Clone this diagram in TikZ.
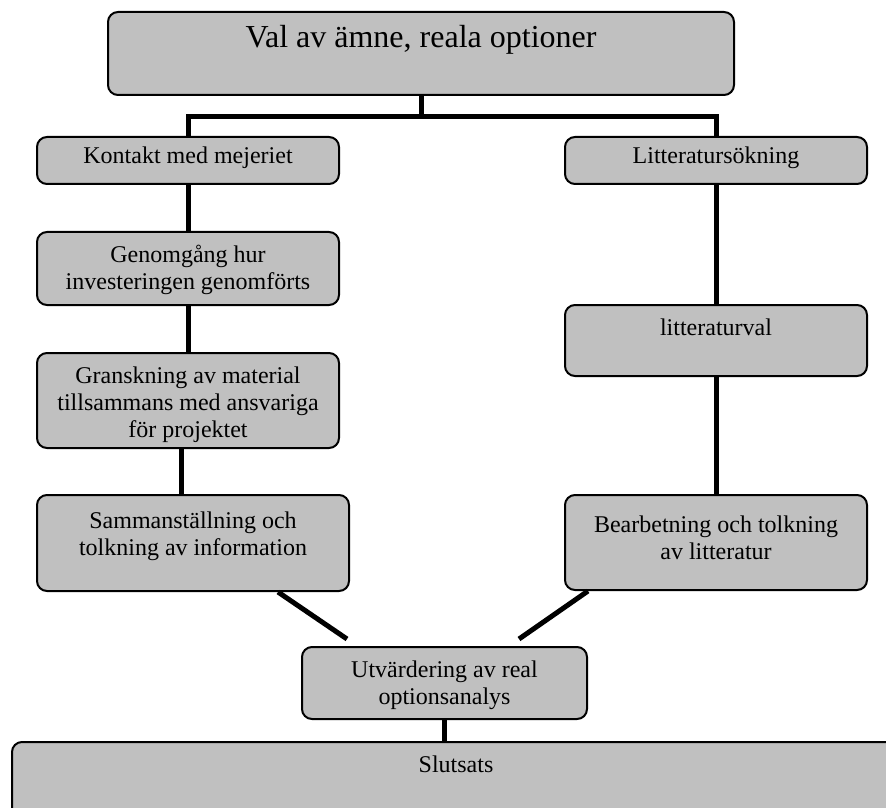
\documentclass[tikz,border=0pt]{standalone}
\usepackage{fontspec}
\setmainfont{Liberation Serif}
\usetikzlibrary{positioning,calc}
\definecolor{boxgray}{HTML}{C0C0C0}

\begin{document}
\begin{tikzpicture}[x=0.5pt,y=-0.5pt,
    box/.style={draw,line width=1pt,fill=boxgray,rounded corners=5pt},
    lbl/.style={anchor=north,yshift=-7pt,align=center,inner sep=0pt,font=\fontsize{12}{13.6}\selectfont},
    link/.style={line width=2.5pt}]
    \useasboundingbox (0,0) rectangle (886,807);

    % top box and the two branches
    \node[box,minimum width=313pt,minimum height=41.5pt,
      label={[lbl,font=\fontsize{16}{18}\selectfont]north:{Val av ämne, reala optioner}}] (val) at (421,53.5) {};
    \node[box,minimum width=151pt,minimum height=23.5pt,
      label={[lbl,yshift=2pt]north:{Kontakt med mejeriet}}] (kontakt) at (188,160.5) {};
    \node[box,minimum width=151pt,minimum height=23.5pt,
      label={[lbl,yshift=2pt]north:{Litteratursökning}}] (litt) at (716,160.5) {};

    % left column
    \node[box,minimum width=151pt,minimum height=36.5pt,
      label={[lbl]north:{Genomgång hur\\investeringen genomförts}}] (genomgang) at (188,268.5) {};
    \node[box,minimum width=151pt,minimum height=47.5pt,
      label={[lbl]north:{Granskning av material\\tillsammans med ansvariga\\för projektet}}] (granskning) at (188,400.5) {};
    \node[box,minimum width=156pt,minimum height=48pt,
      label={[lbl,yshift=-1.5pt]north:{Sammanställning och\\tolkning av information}}] (samman) at (193,543) {};

    % right column
    \node[box,minimum width=151pt,minimum height=35.5pt,
      label={[lbl]north:{litteraturval}}] (litval) at (716,340.5) {};
    \node[box,minimum width=151pt,minimum height=47.5pt,
      label={[lbl,yshift=-3.5pt]north:{Bearbetning och tolkning\\av litteratur}}] (bearb) at (716,542.5) {};

    % bottom
    \node[box,minimum width=142.5pt,minimum height=36pt,
      label={[lbl]north:{Utvärdering av real\\optionsanalys}}] (utv) at (444.5,683) {};
    \node[box,minimum width=444pt,minimum height=44pt,
      label={[lbl]north:{Slutsats}}] (slut) at (456,786) {};

    % connectors
    \coordinate (split) at (421,117);
    \draw[link] (val.south) -- (split);
    \draw[link] (kontakt.north) |- (split) -| (litt.north);
    \draw[link] (kontakt.south) -- (genomgang.north);
    \draw[link] (genomgang.south) -- (granskning.north);
    \draw[link] ([xshift=-3.5pt]granskning.south) -- ([xshift=-6pt]samman.north);
    \draw[link] (litt.south) -- (litval.north);
    \draw[link] (litval.south) -- (bearb.north);
    \draw[link] ([xshift=-36pt]samman.south east) -- ([shift={(23pt,3.5pt)}]utv.north west);
    \draw[link] ([xshift=12pt]bearb.south west) -- ([shift={(-34.5pt,3.5pt)}]utv.north east);
    \draw[link] (utv.south) -- (utv.south |- slut.north);
\end{tikzpicture}
\end{document}
